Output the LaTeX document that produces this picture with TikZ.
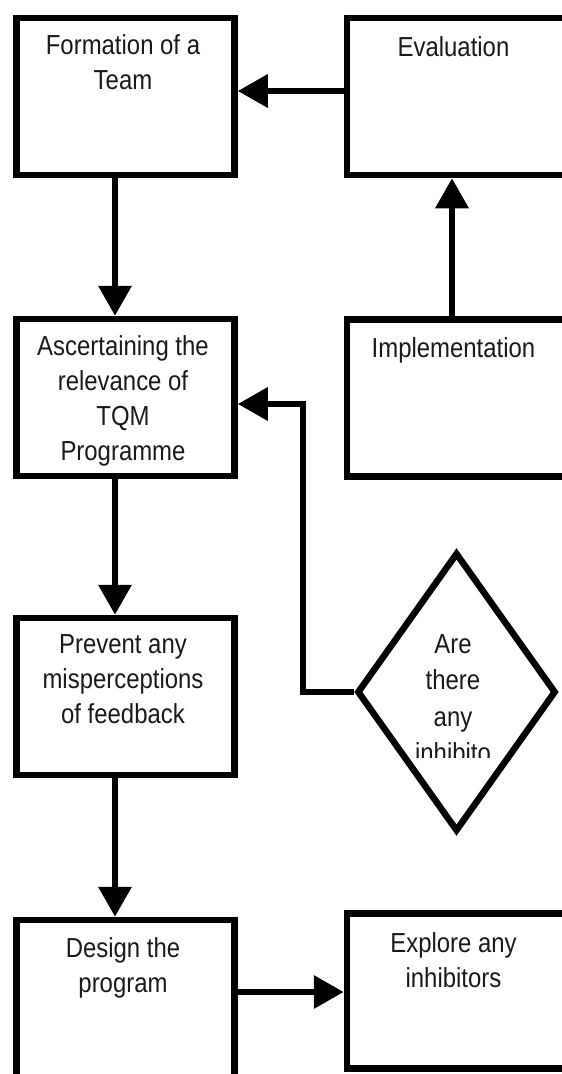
\documentclass[tikz,border=0pt]{standalone}
\usepackage{fontspec}
\setmainfont{Liberation Sans}[FakeStretch=0.87]
\usetikzlibrary{arrows.meta, shapes.geometric}

\begin{document}
\begin{tikzpicture}[x=1pt, y=-1pt,
    box/.style={draw, line width=6.5pt, minimum width=218pt, minimum height=157pt, inner sep=0pt},
    decision/.style={diamond, draw, line width=6.5pt, minimum width=199pt, minimum height=279pt, inner sep=0pt},
    txt/.style={anchor=north, align=center, inner sep=0pt, text=black!90, font=\fontsize{27.5}{35}\selectfont},
    arr/.style={line width=6.5pt, -{Triangle[length=30pt, width=32pt]}}]
    \path[use as bounding box, clip] (0,0) rectangle (562,1074);

    % Boxes
    \node[box] (form) at (125.5, 96.5) {};
    \node[box] (eval) at (456, 96.5) {};
    \node[box] (asc) at (125.5, 397.5) {};
    \node[box] (impl) at (456, 398) {};
    \node[box] (prev) at (125.5, 696.5) {};
    \node[box] (design) at (125.5, 998.5) {};
    \node[box, minimum height=155pt] (expl) at (456, 991) {};
    \node[decision] (inh) at (456.5, 692) {};

    % Labels
    \node[txt] (formtxt) at ([xshift=-2.5pt, yshift=-20pt]form.north) {Formation of a\\Team};
    \node[txt] (evaltxt) at ([xshift=-2.5pt, yshift=-22pt]eval.north) {Evaluation};
    \node[txt] (asctxt) at ([xshift=-2.5pt, yshift=-20pt]asc.north) {Ascertaining the\\relevance of\\TQM\\Programme};
    \node[txt] (impltxt) at ([xshift=-2.5pt, yshift=-21pt]impl.north) {Implementation};
    \node[txt] (prevtxt) at ([xshift=-2.5pt, yshift=-20pt]prev.north) {Prevent any\\misperceptions\\of feedback};
    \node[txt] (designtxt) at ([xshift=-2.5pt, yshift=-21pt]design.north) {Design the\\program};
    \node[txt] (expltxt) at ([xshift=-2.5pt, yshift=-22pt]expl.north) {Explore any\\inhibitors};
    \begin{scope}
        \clip (360,600) rectangle (555,757);
        \node[txt, font=\fontsize{27.5}{36.5}\selectfont] (inhtxt) at (453, 634) {Are\\there\\any\\inhibito};
    \end{scope}

    % Connectors
    \draw[arr] ([yshift=5.5pt]eval.west) -- ([yshift=5.5pt]form.east);
    \draw[arr] ([xshift=-4pt]impl.north) -- ([xshift=-4pt]eval.south);
    \draw[arr] ([xshift=-10.5pt]form.south) -- ([xshift=-10.5pt]asc.north);
    \draw[arr] ([xshift=-10.5pt]asc.south) -- ([xshift=-10.5pt]prev.north);
    \draw[arr] ([xshift=-10.5pt]prev.south) -- ([xshift=-10.5pt]design.north);
    \draw[arr] ([yshift=6.5pt]design.east) -- ([yshift=6.5pt]design.east -| expl.west);
    \draw[arr] (inh.west) -- (303, 692) |- ([yshift=-6.5pt]asc.east);
\end{tikzpicture}
\end{document}
